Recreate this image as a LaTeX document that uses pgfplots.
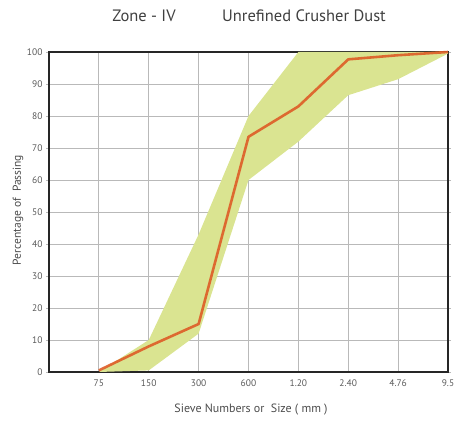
\documentclass[border=0pt]{standalone}
\usepackage{fontspec}
\setmainfont{PT Sans}
\usepackage{pgfplots}
\pgfplotsset{compat=1.18}
\definecolor{band}{RGB}{218,228,145}
\definecolor{redline}{RGB}{222,92,38}
\definecolor{gridc}{RGB}{185,185,185}
\begin{document}
\begin{tikzpicture}
\useasboundingbox (0,0) rectangle (456pt,421pt);
\begin{axis}[
  at={(49pt,49pt)}, anchor=south west,
  scale only axis, width=399pt, height=320pt,
  xmin=-1, xmax=7, ymin=0, ymax=100,
  xtick={0,...,7},
  xticklabels={75,150,300,600,1.20,2.40,4.76,9.5},
  ytick={0,10,...,100},
  grid=major,
  grid style={draw=gridc, line width=0.9pt},
  axis line style={line width=1.8pt, black!85},
  major tick length=3pt,
  tick style={draw=gridc, line width=0.8pt},
  tick align=outside,
  xtick style={draw=none},
  ticklabel style={font=\fontsize{9.5}{10}\selectfont, text=black!65},
  /pgf/number format/assume math mode=true,
  xticklabel style={yshift=-1pt},
  clip=false,
]
\addplot[fill=band, draw=none] coordinates {
  (0,0) (1,10) (2,43) (3,80) (4,100) (5,100) (6,100) (7,100)
  (7,99.5) (6,91.5) (5,86.5) (4,72) (3,60) (2,12) (1,0.5) (0,0)
} -- cycle;
\addplot[draw=redline, line width=2.6pt, opacity=0.9, line join=round] coordinates {
  (0,0.5) (1,8) (2,15) (3,73.5) (4,83) (5,97.7) (6,99) (7,100)
};
\end{axis}
\node[text=black!75, font=\fontsize{16.5}{18}\selectfont] at (144pt,405pt) {Zone - IV};
\node[text=black!75, font=\fontsize{16.5}{18}\selectfont] at (304pt,405pt) {Unrefined Crusher Dust};
\node[text=black!70, font=\fontsize{12}{14}\selectfont] at (251pt,11pt) {Sieve Numbers or\ \ Size ( mm )};
\node[text=black!70, font=\fontsize{11.5}{13}\selectfont, rotate=90] at (18pt,211pt) {Percentage of\ \ Passing};
\end{tikzpicture}
\end{document}
